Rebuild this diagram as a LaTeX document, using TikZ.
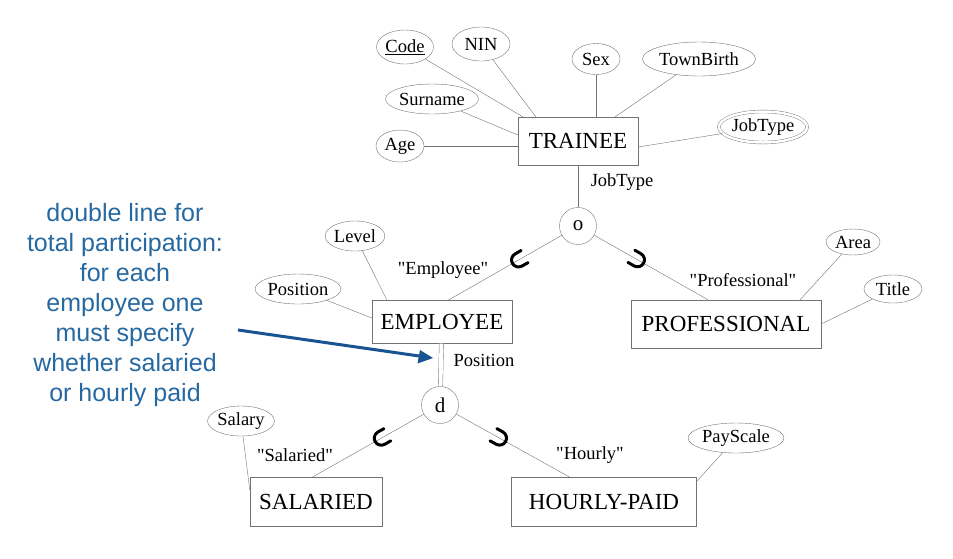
\documentclass[tikz,border=0pt]{standalone}
\usepackage{fontspec}
\setmainfont{Liberation Serif}
\newfontfamily\notefont{Liberation Sans}
\usetikzlibrary{shapes.geometric,decorations.markings}
\definecolor{linegray}{RGB}{115,115,115}
\definecolor{noteblue}{RGB}{38,104,160}
\definecolor{arrowblue}{RGB}{24,84,146}
\newcommand{\qtd}[1]{\textquotedbl#1\textquotedbl}

\tikzset{
  attr/.style={ellipse, draw=linegray, thin, inner sep=0pt, font=\fontsize{18.5}{20}\selectfont},
  entity/.style={rectangle, draw=linegray, thin, minimum height=46pt, font=\fontsize{23}{26}\selectfont},
  gencircle/.style={circle, draw=linegray, thin, minimum size=37pt, inner sep=0pt, font=\fontsize{21}{24}\selectfont},
  link/.style={draw=linegray, thin},
  lbl/.style={font=\fontsize{18.5}{20}\selectfont},
  subsetlink/.style={link, postaction={decorate, decoration={markings,
      mark=at position 0.38 with {\draw[black, line width=3pt, line cap=round]
        (-7pt,7pt) -- (0pt,7pt) arc[start angle=90, end angle=-90, radius=7pt] -- (-7pt,-7pt);}}}},
}

\begin{document}
\begin{tikzpicture}[x=1pt, y=-1pt]
\useasboundingbox (0,0) rectangle (953,558);

% trainee and its attributes
\node[entity, minimum width=120pt, minimum height=48pt] (trainee) at (578,141) {TRAINEE};
\node[attr, minimum width=57pt, minimum height=34pt] (code) at (405,47) {\underline{Code}};
\node[attr, minimum width=58pt, minimum height=34pt] (nin) at (481,44) {NIN};
\node[attr, minimum width=48pt, minimum height=31pt] (sex) at (596,59) {Sex};
\node[attr, minimum width=102pt, minimum height=34pt] (townbirth) at (699,59) {TownBirth};
\node[attr, minimum width=90pt, minimum height=30pt] (surname) at (432,99) {Surname};
\node[attr, minimum width=48pt, minimum height=32pt] (age) at (400,146) {Age};
\node[attr, double, double distance=2.5pt, minimum width=86pt, minimum height=31pt] (jobtype) at (763,127) {JobType};

\draw[link] (code) -- ([xshift=5pt]trainee.north west);
\draw[link] (nin) -- ([xshift=18pt]trainee.north west);
\draw[link] (sex) -- (sex |- trainee.north);
\draw[link] (townbirth) -- ([xshift=-23pt]trainee.north east);
\draw[link] (surname) -- ([yshift=6pt]trainee.west);
\draw[link] (age) -- (age -| trainee.west);
\draw[link] (jobtype) -- ([yshift=-6pt]trainee.east);

% first specialisation
\node[gencircle] (ogen) at (578,226) {o};
\node[lbl] (jobtypelbl) at (622,182) {JobType};
\draw[link] (trainee) -- (ogen);

\node[entity, minimum width=140pt, minimum height=43pt] (employee) at (442,322) {EMPLOYEE};
\node[entity, minimum width=190pt, minimum height=48pt] (professional) at (726,324) {PROFESSIONAL};
\node[lbl] (employeelbl) at (443,270) {\qtd{Employee}};
\node[lbl] (professionallbl) at (743,280) {\qtd{Professional}};
\draw[subsetlink] (ogen) -- ([xshift=6pt]employee.north);
\draw[subsetlink] (ogen) -- ([xshift=-18pt]professional.north);

\node[attr, minimum width=50pt, minimum height=30pt] (level) at (355,236) {Level};
\node[attr, minimum width=76pt, minimum height=30pt] (position) at (298,289) {Position};
\draw[link] (level) -- ([xshift=-55pt]employee.north);
\draw[link] (position) -- ([yshift=4pt]employee.west);

\node[attr, minimum width=54pt, minimum height=26pt] (area) at (853,242) {Area};
\node[attr, minimum width=58pt, minimum height=28pt] (title) at (893,289) {Title};
\draw[link] (area) -- ([xshift=74pt]professional.north);
\draw[link] (title) -- (professional.east);

% second specialisation
\node[gencircle] (dgen) at (440,405) {d};
\node[lbl] (positionlbl) at (484,360) {Position};
\draw[link, double, double distance=4pt] (employee) -- (dgen);

\node[entity, minimum width=132pt, minimum height=49pt] (salaried) at (316,502) {SALARIED};
\node[entity, minimum width=185pt, minimum height=49pt] (hourly) at (604,502) {HOURLY-PAID};
\node[lbl] (salariedlbl) at (295,455) {\qtd{Salaried}};
\node[lbl] (hourlylbl) at (590,455) {\qtd{Hourly}};
\draw[subsetlink] (dgen) -- ([xshift=-4pt]salaried.north);
\draw[subsetlink] (dgen) -- ([xshift=-34pt]hourly.north);

\node[attr, minimum width=64pt, minimum height=30pt] (salary) at (241,421) {Salary};
\node[attr, minimum width=84pt, minimum height=30pt] (payscale) at (736,438) {PayScale};
\draw[link] (salary) -- ([yshift=12pt]salaried.west);
\draw[link] (payscale) -- ([yshift=-4pt]hourly.north east);

% note on total participation
\node[align=center, text=noteblue, font=\notefont\fontsize{25}{30}\selectfont] (note) at (125,305)
  {double line for\\total participation:\\for each\\employee one\\must specify\\whether salaried\\or hourly paid};
\coordinate (notetail) at (238,330);
\coordinate (notetip) at (433,358);
\draw[arrowblue, line width=3pt, shorten >=11pt] (notetail) -- (notetip);
\fill[arrowblue] (notetip) -- ++(-13,-8) -- ++(-2.5,13.5) -- cycle;
\end{tikzpicture}
\end{document}
